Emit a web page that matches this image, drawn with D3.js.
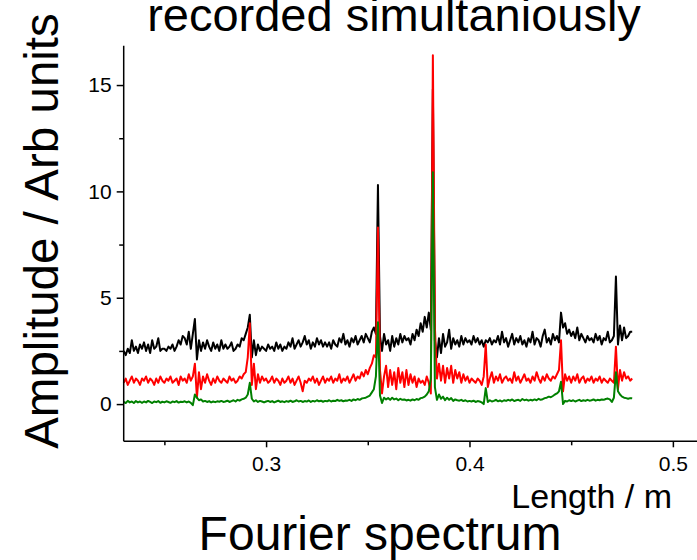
<!DOCTYPE html>
<html>
<head>
<meta charset="utf-8">
<script src="https://cdn.jsdelivr.net/npm/d3@7/dist/d3.min.js"></script>
<style>
  html, body { margin: 0; padding: 0; background: #fff; }
  svg { display: block; font-family: "Liberation Sans", Arial, sans-serif; }
</style>
</head>
<body>
<div id="app"></div>
<script>
const width = 697;
const height = 560;

// sampling grid of the spectrum (length in m)
const lengthStart = 0.230;
const lengthStep = 0.001;

// three spectra recorded simultaneously, one value per grid step 0.230 ... 0.480
const blackSeries = [
  2.5,2.3,2.6,2.4,3.0,2.5,2.7,2.4,2.8,2.6,
  2.9,2.5,2.8,2.4,3.0,2.6,2.7,3.1,2.5,2.6,
  2.6,2.5,2.7,2.6,2.8,2.5,2.7,3.0,2.8,3.2,
  3.1,2.8,3.4,2.6,3.3,4.0,2.1,3.0,2.5,2.9,
  2.6,3.0,2.7,2.5,2.9,2.6,2.8,2.5,3.0,2.6,
  2.8,2.6,2.7,2.9,2.5,2.6,2.8,2.7,3.1,3.0,
  3.3,3.6,4.2,2.2,3.0,2.3,2.8,2.5,2.7,2.6,
  2.5,2.8,2.6,2.7,2.5,2.9,2.6,2.8,2.5,2.7,
  2.6,2.9,2.7,3.1,2.6,2.8,3.0,2.7,2.9,3.2,
  2.8,3.0,2.6,2.9,2.7,3.1,2.8,3.0,2.7,2.9,
  2.7,2.9,2.6,3.0,2.8,2.7,3.1,2.9,3.3,2.8,
  3.0,2.7,3.1,2.9,3.2,2.8,3.0,3.2,2.9,3.3,
  3.1,2.9,3.4,3.6,3.3,10.3,3.2,2.5,3.3,2.8,
  3.0,2.5,3.2,2.7,3.1,2.8,3.3,2.9,3.2,3.0,
  3.1,2.8,3.3,3.0,3.5,3.2,3.8,3.4,4.1,3.6,
  4.3,3.5,14.8,3.0,2.2,3.1,2.4,3.3,2.7,2.9,
  3.5,2.6,3.1,2.8,3.0,2.7,3.2,2.8,3.1,2.9,
  3.0,2.8,3.2,2.9,3.1,2.8,3.0,2.7,3.0,2.9,
  3.1,2.8,3.0,2.9,3.2,2.8,3.4,2.9,3.1,2.7,
  3.0,3.3,2.8,3.1,2.9,3.2,2.8,3.0,2.7,3.1,
  2.9,3.4,2.8,3.1,3.0,2.7,3.2,3.5,2.9,3.1,
  2.8,3.3,3.0,3.2,2.9,4.3,3.6,3.8,3.3,3.5,
  3.2,3.4,3.1,3.6,3.0,3.3,3.1,2.9,3.2,3.0,
  3.1,2.9,3.3,3.0,3.2,2.8,3.1,3.0,3.4,2.9,
  3.0,3.2,6.0,2.8,3.7,3.0,3.6,3.1,3.2,3.4,
  3.4
];

const redSeries = [
  1.0,1.2,0.9,1.1,1.3,1.0,1.2,1.1,0.9,1.2,
  1.1,1.3,1.0,1.2,1.1,0.9,1.2,1.0,1.3,1.1,
  1.0,1.2,1.1,1.3,1.0,1.1,1.2,0.9,1.3,1.1,
  1.2,1.0,1.4,1.1,1.3,1.9,0.3,1.5,0.7,1.3,
  1.0,1.4,1.1,0.9,1.2,1.0,1.3,1.1,1.0,1.2,
  1.1,1.0,1.3,1.1,1.2,1.0,1.1,1.3,1.2,1.4,
  1.5,2.2,3.8,0.9,1.9,0.7,1.4,1.0,1.3,1.1,
  1.2,1.0,1.1,1.3,1.0,1.2,1.1,0.9,1.2,1.0,
  1.1,1.3,1.0,1.2,0.9,1.1,1.3,1.0,0.6,1.1,
  1.0,1.2,1.1,1.3,1.0,1.2,0.9,1.1,1.3,1.0,
  1.2,1.1,1.3,1.0,1.2,1.1,1.4,1.0,1.2,1.1,
  1.3,1.0,1.2,1.4,1.1,1.3,1.2,1.5,1.3,1.6,
  1.4,1.7,1.9,2.3,2.2,8.3,1.6,0.5,1.3,1.8,
  0.8,1.6,0.9,1.5,0.7,1.7,1.0,1.5,0.8,1.6,
  0.9,1.4,1.0,1.3,0.8,1.2,1.0,1.1,0.9,1.3,
  1.0,0.5,16.4,3.6,1.2,1.9,1.1,1.8,1.0,1.7,
  1.2,1.8,1.0,1.6,1.2,1.5,1.0,1.4,1.1,1.3,
  1.0,1.2,1.1,1.0,1.2,1.1,0.9,1.3,2.8,0.8,
  1.2,1.5,1.0,1.3,1.1,1.4,1.0,1.2,1.3,1.1,
  1.2,1.0,1.5,1.1,1.3,1.0,1.2,1.4,1.1,1.2,
  1.0,1.3,1.1,1.5,1.2,1.0,1.3,1.1,1.4,1.2,
  1.1,1.3,1.2,1.4,1.6,3.0,0.6,1.4,1.1,1.3,
  1.0,1.3,1.1,1.4,1.0,1.2,1.3,1.0,1.2,1.1,
  1.3,1.0,1.2,1.1,1.3,1.0,1.2,1.1,1.0,1.2,
  1.1,1.0,2.7,0.7,1.6,1.1,1.5,1.2,1.3,1.1,
  1.2
];

const greenSeries = [
  0.10,0.05,0.15,0.08,0.12,0.05,0.14,0.08,0.12,0.06,
  0.12,0.08,0.15,0.10,0.05,0.12,0.09,0.14,0.06,0.11,
  0.08,0.13,0.10,0.06,0.12,0.09,0.14,0.07,0.11,0.10,
  0.13,0.08,0.12,0.06,-0.05,0.45,0.30,0.18,0.22,0.12,
  0.15,0.10,0.14,0.08,0.12,0.09,0.13,0.11,0.15,0.10,
  0.12,0.16,0.10,0.14,0.18,0.12,0.20,0.16,0.22,0.25,
  0.30,0.45,1.00,0.25,0.12,0.18,0.10,0.15,0.12,0.08,
  0.12,0.15,0.10,0.14,0.08,0.12,0.16,0.10,0.13,0.09,
  0.14,0.11,0.16,0.10,0.13,0.18,0.12,0.15,0.10,0.14,
  0.12,0.17,0.10,0.15,0.12,0.18,0.13,0.16,0.11,0.15,
  0.13,0.18,0.12,0.16,0.14,0.20,0.15,0.18,0.13,0.17,
  0.16,0.20,0.15,0.22,0.18,0.24,0.20,0.26,0.28,0.30,
  0.35,0.40,0.55,0.70,1.30,3.85,0.40,0.05,0.30,0.22,
  0.28,0.20,0.30,0.22,0.26,0.18,0.25,0.20,0.22,0.17,
  0.20,0.16,0.22,0.18,0.24,0.20,0.28,0.30,0.35,0.45,
  0.60,1.20,10.90,0.80,0.20,0.45,0.25,0.35,0.18,0.30,
  0.20,0.28,0.15,0.22,0.18,0.16,0.20,0.14,0.18,0.12,
  0.15,0.12,0.16,0.10,0.14,0.12,0.08,0.00,0.75,0.10,
  0.18,0.12,0.15,0.20,0.13,0.17,0.12,0.18,0.15,0.20,
  0.16,0.22,0.14,0.18,0.20,0.15,0.24,0.18,0.21,0.16,
  0.20,0.17,0.22,0.18,0.25,0.20,0.23,0.28,0.30,0.35,
  0.32,0.38,0.45,0.50,0.60,1.05,0.00,0.15,0.12,0.18,
  0.14,0.18,0.12,0.16,0.20,0.14,0.18,0.15,0.20,0.16,
  0.18,0.22,0.16,0.20,0.18,0.22,0.20,0.24,0.26,0.22,
  0.10,0.30,1.50,0.60,0.45,0.35,0.30,0.28,0.25,0.28,
  0.27
];

const xMajorTicks = [0.3, 0.4, 0.5];
const xMinorTicks = [0.25, 0.35, 0.45];
const yMajorTicks = [0, 5, 10, 15];
const yMinorTicks = [2.5, 7.5, 12.5];

const seriesList = [
  { name: 'black', values: blackSeries, color: '#000000' },
  { name: 'red', values: redSeries, color: '#ff0000' },
  { name: 'green', values: greenSeries, color: '#008000' }
];

const plotLeft = 123.7;
const plotTop = 45.7;
const plotBottom = 441.3;

const xScale = d3.scaleLinear()
  .domain([0.23, 0.52])
  .range([plotLeft, plotLeft + 0.29 * 2034]);

const yScale = d3.scaleLinear()
  .domain([-1.75, 16.85])
  .range([plotBottom, plotTop]);

const svg = d3.select('#app').append('svg')
  .attr('width', width)
  .attr('height', height);

// spectra
const line = d3.line()
  .x((d, i) => xScale(lengthStart + i * lengthStep))
  .y(d => yScale(d));

svg.append('g')
  .selectAll('path')
  .data(seriesList)
  .enter()
  .append('path')
  .attr('d', d => line(d.values))
  .attr('fill', 'none')
  .attr('stroke', d => d.color)
  .attr('stroke-width', 2)
  .attr('stroke-linejoin', 'round');

// axes
const xAxis = svg.append('g')
  .attr('transform', 'translate(0,' + plotBottom + ')')
  .call(d3.axisBottom(xScale).tickValues(xMajorTicks).tickSize(6).tickPadding(9).tickFormat(d3.format('.1f')));

svg.append('g')
  .attr('transform', 'translate(0,' + plotBottom + ')')
  .call(d3.axisBottom(xScale).tickValues(xMinorTicks).tickSize(4).tickFormat(''))
  .select('.domain').remove();

const yAxis = svg.append('g')
  .attr('transform', 'translate(' + plotLeft + ',0)')
  .call(d3.axisLeft(yScale).tickValues(yMajorTicks).tickSize(7).tickPadding(5));

svg.append('g')
  .attr('transform', 'translate(' + plotLeft + ',0)')
  .call(d3.axisLeft(yScale).tickValues(yMinorTicks).tickSize(4.5).tickFormat(''))
  .select('.domain').remove();

svg.selectAll('.domain, .tick line')
  .attr('stroke', '#000')
  .attr('stroke-width', 1.5);

xAxis.select('.domain').attr('d', 'M' + plotLeft + ',0H' + width);
yAxis.select('.domain').attr('d', 'M0,' + plotBottom + 'V' + plotTop);

svg.selectAll('.tick text')
  .attr('fill', '#000')
  .style('font-size', '21px')
  .style('font-family', '"Liberation Sans", Arial, sans-serif');

// labels
svg.append('text')
  .attr('x', 394)
  .attr('y', 31)
  .attr('text-anchor', 'middle')
  .style('font-size', '47px')
  .text('recorded simultaniously');

svg.append('text')
  .attr('transform', 'translate(58,231) rotate(-90)')
  .attr('text-anchor', 'middle')
  .style('font-size', '47.5px')
  .text('Amplitude / Arb units');

svg.append('text')
  .attr('x', 672)
  .attr('y', 508)
  .attr('text-anchor', 'end')
  .style('font-size', '34px')
  .text('Length / m');

svg.append('text')
  .attr('x', 380)
  .attr('y', 550)
  .attr('text-anchor', 'middle')
  .style('font-size', '48px')
  .text('Fourier spectrum');
</script>
</body>
</html>
